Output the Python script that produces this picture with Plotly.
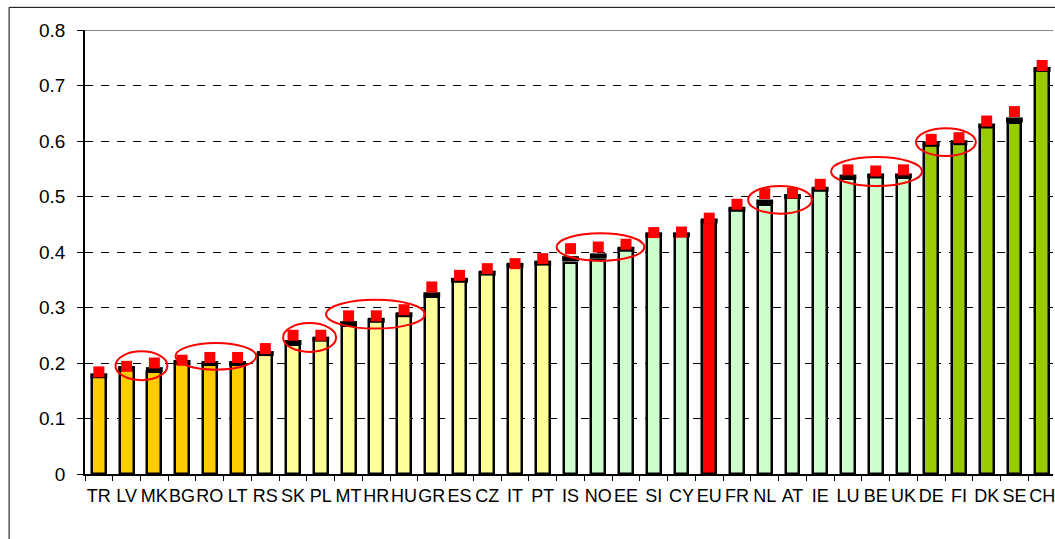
"""국가별 지수 막대 차트 (막대 + 검은 눈금 + 빨간 사각 마커)."""
import plotly.graph_objects as go

countries = ["TR", "LV", "MK", "BG", "RO", "LT", "RS", "SK", "PL", "MT", "HR", "HU",
             "GR", "ES", "CZ", "IT", "PT", "IS", "NO", "EE", "SI", "CY", "EU", "FR",
             "NL", "AT", "IE", "LU", "BE", "UK", "DE", "FI", "DK", "SE", "CH"]
bar_vals = [0.177, 0.190, 0.183, 0.201, 0.199, 0.199, 0.217, 0.233, 0.243, 0.266, 0.277, 0.287,
            0.319, 0.349, 0.362, 0.376, 0.380, 0.380, 0.385, 0.405, 0.431, 0.431, 0.456, 0.477,
            0.485, 0.500, 0.513, 0.531, 0.537, 0.533, 0.594, 0.597, 0.627, 0.632, 0.729]
black_vals = [0.177, 0.190, 0.188, 0.201, 0.199, 0.199, 0.217, 0.237, 0.243, 0.271, 0.277, 0.287,
              0.323, 0.349, 0.362, 0.376, 0.380, 0.388, 0.393, 0.405, 0.431, 0.431, 0.456, 0.477,
              0.490, 0.500, 0.513, 0.535, 0.537, 0.537, 0.594, 0.597, 0.627, 0.638, 0.729]
red_vals = [0.184, 0.194, 0.200, 0.205, 0.210, 0.210, 0.226, 0.250, 0.250, 0.285, 0.285, 0.296,
            0.337, 0.358, 0.370, 0.379, 0.388, 0.406, 0.409, 0.414, 0.435, 0.436, 0.461, 0.486,
            0.505, 0.506, 0.522, 0.548, 0.546, 0.548, 0.603, 0.606, 0.636, 0.653, 0.736]
groups = ["low"] * 6 + ["mid"] * 11 + ["high"] * 5 + ["eu"] + ["high"] * 7 + ["top"] * 5

_COLORS = {"low": "#FFCC00", "mid": "#FFFF99", "high": "#CCFFCC", "eu": "#FF0000", "top": "#99CC00"}
_FAMILY = "Liberation Sans, Arial"

# 강조 타원 (x: 카테고리 인덱스, y: 값)
ellipses = [(0.60, 2.47, 0.169, 0.221), (2.76, 5.67, 0.188, 0.236), (6.64, 8.55, 0.220, 0.272),
            (8.19, 11.75, 0.262, 0.314), (16.50, 19.66, 0.384, 0.434), (23.40, 25.70, 0.469, 0.519),
            (26.39, 29.67, 0.519, 0.571), (29.45, 31.61, 0.573, 0.623)]

fig = go.Figure()
fig.add_trace(go.Bar(x=countries, y=bar_vals, width=0.5,
                     marker=dict(color=[_COLORS[g] for g in groups], line=dict(color="black", width=2.5))))
fig.add_trace(go.Scatter(x=countries, y=black_vals, mode="markers",
                         marker=dict(symbol="line-ew", size=12, line=dict(color="black", width=5))))
fig.add_trace(go.Scatter(x=countries, y=red_vals, mode="markers",
                         marker=dict(symbol="square", size=11, color="#FF0000", line=dict(width=0))))

_NOFILL = "rgba(0,0,0,0)"
shapes = [dict(type="circle", xref="x", yref="y", x0=a, x1=b, y0=c, y1=d, fillcolor=_NOFILL,
               opacity=1, line=dict(color="#FF0000", width=2)) for a, b, c, d in ellipses]
shapes.append(dict(type="line", xref="paper", yref="y", x0=0, x1=1, y0=0.8, y1=0.8, opacity=1,
                   line=dict(color="#888888", width=2)))
# 바깥 테두리
shapes.append(dict(type="rect", xref="paper", yref="paper", x0=-0.0784, x1=1.2, y0=-0.5, y1=1.051,
                   fillcolor=_NOFILL, opacity=1, layer="below", line=dict(color="black", width=1)))

fig.update_layout(
    width=1055, height=539, showlegend=False,
    margin=dict(l=85, r=0, t=30, b=65), bargap=0,
    font=dict(family=_FAMILY, size=18, color="black"),
    plot_bgcolor="white", paper_bgcolor="white", shapes=shapes,
    xaxis=dict(type="category", range=[-0.5, 34.39], showline=True, linecolor="black", linewidth=1.5,
               ticks="outside", tickson="boundaries", ticklen=5, tickcolor="black", showgrid=False,
               tickangle=0, tickfont=dict(family=_FAMILY, size=18, color="black"), ticklabelstandoff=5),
    yaxis=dict(range=[0, 0.8], dtick=0.1, showline=True, linecolor="black", linewidth=1.5,
               ticks="outside", ticklen=6, tickcolor="black", showgrid=True,
               tickfont=dict(family=_FAMILY, size=19, color="black"), ticklabelstandoff=8,
               gridcolor="black", griddash="8px,8px", gridwidth=1, zeroline=False),
)
fig.write_html("out.html", config={"displayModeBar": False},
               post_script="document.body.style.margin='0';")
